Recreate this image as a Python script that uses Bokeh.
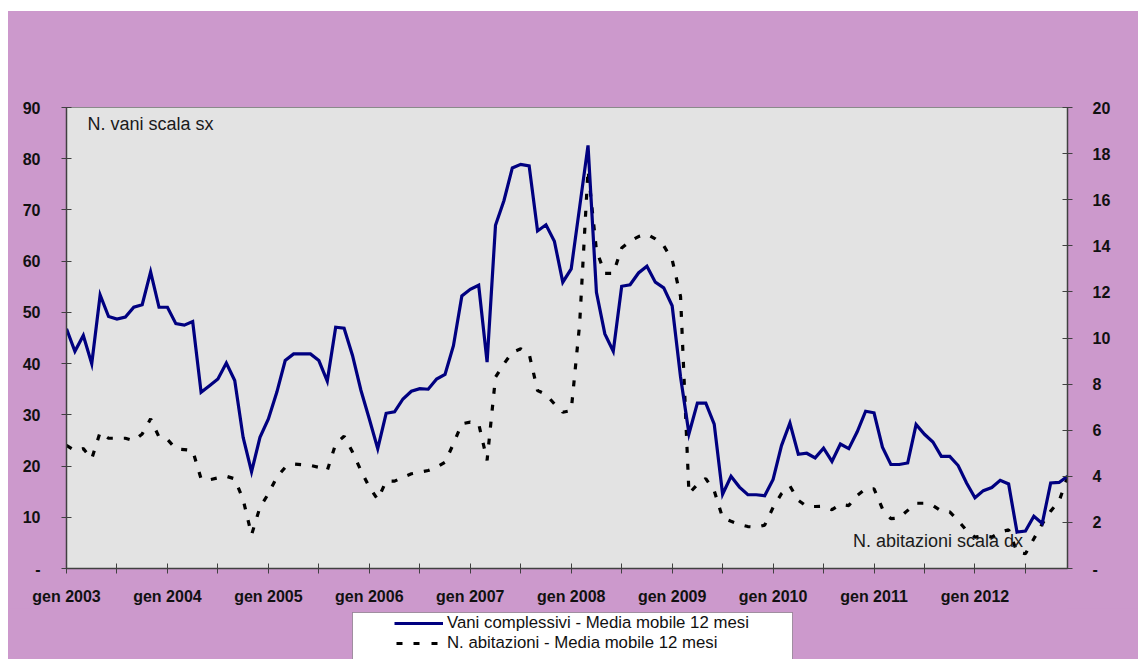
from bokeh.plotting import figure
from bokeh.models import (Range1d, LinearAxis, FixedTicker, Legend, LegendItem,
                          Label, Spacer, BoxAnnotation)
from bokeh.layouts import column, row
from bokeh.embed import file_html
from bokeh.resources import INLINE

# ---------------- data ----------------
year_labels = ["gen 2003", "gen 2004", "gen 2005", "gen 2006", "gen 2007",
               "gen 2008", "gen 2009", "gen 2010", "gen 2011", "gen 2012"]

vani = [46.8, 42.4, 45.5, 40.0, 53.4, 49.2, 48.7, 49.1, 51.0, 51.5, 57.9, 51.0,
        51.0, 47.8, 47.5, 48.2, 34.4, 35.7, 37.0, 40.1, 36.7, 25.6, 18.9, 25.6,
        29.2, 34.4, 40.6, 41.9, 41.9, 41.9, 40.6, 36.6, 47.1, 46.9, 41.6, 34.8,
        29.2, 23.4, 30.3, 30.6, 33.1, 34.6, 35.1, 35.0, 37.0, 37.9, 43.5, 53.2,
        54.5, 55.3, 40.3, 67.0, 71.8, 78.2, 78.9, 78.6, 65.9, 67.1, 63.9, 55.9,
        58.5, 70.5, 82.6, 53.9, 45.8, 42.4, 55.1, 55.4, 57.7, 59.0, 55.9, 54.8,
        51.3, 37.4, 26.3, 32.3, 32.3, 28.2, 14.5, 18.0, 15.9, 14.4, 14.4, 14.2,
        17.4, 24.0, 28.4, 22.3, 22.5, 21.6, 23.5, 20.9, 24.3, 23.4, 26.7, 30.7,
        30.4, 23.7, 20.3, 20.3, 20.6, 28.1, 26.2, 24.7, 21.9, 21.9, 20.1, 16.7,
        13.8, 15.2, 15.8, 17.2, 16.5, 7.1, 7.3, 10.2, 8.8, 16.7, 16.8, 18.0]

abitazioni = [5.34, 5.12, 5.20, 4.76, 5.91, 5.65, 5.65, 5.65, 5.55, 5.84, 6.49, 5.70,
              5.60, 5.19, 5.16, 5.12, 3.89, 3.85, 3.93, 4.00, 3.89, 2.99, 1.46, 2.66,
              3.24, 3.96, 4.39, 4.53, 4.50, 4.47, 4.39, 4.25, 5.41, 5.74, 5.05, 4.25,
              3.53, 2.99, 3.79, 3.79, 3.96, 4.11, 4.18, 4.25, 4.39, 4.61, 5.41, 6.28,
              6.35, 6.28, 4.69, 8.30, 8.88, 9.38, 9.53, 9.31, 7.72, 7.55, 7.14, 6.78,
              6.85, 10.6, 17.3, 13.8, 12.8, 12.8, 13.9, 14.2, 14.4, 14.5, 14.3, 14.0,
              13.4, 11.8, 3.25, 3.65, 3.90, 3.38, 2.20, 2.05, 1.91, 1.82, 1.79, 1.88,
              2.65, 3.25, 3.58, 2.96, 2.69, 2.69, 2.70, 2.55, 2.78, 2.73, 3.17, 3.46,
              3.46, 2.59, 2.16, 2.20, 2.52, 2.83, 2.83, 2.73, 2.49, 2.46, 2.08, 1.65,
              1.36, 1.43, 1.36, 1.58, 1.68, 0.71, 0.64, 1.29, 1.94, 2.49, 2.92, 3.96]

months = list(range(len(vani)))

left_ticks = [0, 10, 20, 30, 40, 50, 60, 70, 80, 90]
right_ticks = [0, 2, 4, 6, 8, 10, 12, 14, 16, 18, 20]

legend_labels = ["Vani complessivi - Media mobile 12 mesi",
                 "N. abitazioni - Media mobile 12 mesi"]

# ---------------- styles ----------------
PURPLE = "#CC99CC"
PLOT_BG = "#E3E3E3"
NAVY = "#000080"
FONT = "Liberation Sans"
AXIS_COL = "#404040"

p = figure(width=1130, height=597, output_backend="svg", toolbar_location=None,
           x_range=Range1d(0, len(vani) - 1), y_range=Range1d(0, 90),
           min_border_left=58, min_border_right=71, min_border_top=96,
           min_border_bottom=40)
p.extra_y_ranges = {"right": Range1d(0, 20)}
p.background_fill_color = PLOT_BG
p.border_fill_color = PURPLE
p.outline_line_color = "#8a8a8a"
p.outline_line_width = 1
p.xgrid.visible = False
p.ygrid.visible = False

def style_axis(ax):
    ax.axis_line_color = AXIS_COL
    ax.axis_line_width = 1.5
    ax.major_tick_line_color = AXIS_COL
    ax.major_tick_in = 5
    ax.major_tick_out = 5
    ax.minor_tick_line_color = None
    ax.major_label_text_font = FONT
    ax.major_label_text_font_style = "bold"
    ax.major_label_text_font_size = "16px"
    ax.major_label_text_color = "#111111"

# x axis
xa = p.xaxis[0]
style_axis(xa)
xticks = list(range(0, len(vani), 6))
xa.ticker = FixedTicker(ticks=xticks)
overrides = {}
for t in xticks:
    overrides[t] = year_labels[t // 12] if t % 12 == 0 else ""
xa.major_label_overrides = overrides
xa.major_label_standoff = 14

# left axis
ya = p.yaxis[0]
style_axis(ya)
ya.ticker = FixedTicker(ticks=left_ticks)
ya.major_label_overrides = {0: "-"}
ya.major_label_standoff = 21

# right axis
ra = LinearAxis(y_range_name="right")
style_axis(ra)
ra.ticker = FixedTicker(ticks=right_ticks)
ra.major_label_overrides = {0: "-"}
ra.major_label_standoff = 20
p.add_layout(ra, "right")

# lines
p.line(months, abitazioni, y_range_name="right", line_color="black",
       line_width=3.2, line_dash="6 11")
p.line(months, vani, line_color=NAVY, line_width=3.2, line_join="miter")

# text annotations
p.add_layout(Label(x=2.5, y=86.8, text="N. vani scala sx", text_font=FONT,
                   text_font_size="18px", text_color="#1a1a1a",
                   text_baseline="alphabetic"))
p.add_layout(Label(x=93.5, y=1.18, y_range_name="right",
                   text="N. abitazioni scala dx", text_font=FONT,
                   text_font_size="18px", text_color="#1a1a1a",
                   text_baseline="alphabetic"))

# ---------------- legend strip below the chart ----------------
# (its frame is aligned with the chart frame by the column layout)
p2 = figure(width=1130, height=51, output_backend="svg", toolbar_location=None,
            x_axis_location=None, y_axis_location=None,
            x_range=Range1d(0, 1), y_range=Range1d(0, 1),
            min_border_left=58, min_border_right=71, min_border_top=0,
            min_border_bottom=0)
p2.background_fill_color = PURPLE
p2.border_fill_color = PURPLE
p2.outline_line_color = None
p2.xgrid.visible = False
p2.ygrid.visible = False

nan = float("nan")
leg_va = p2.line([nan], [nan], line_color=NAVY, line_width=3,
                 line_dash="0 42 49 1000")
leg_ab = p2.line([nan], [nan], line_color="black", line_width=3,
                 line_dash="0 44 6 11 6 12 6 1000")

p2.add_layout(BoxAnnotation(left=286, right=726, top=47, bottom=-20,
                            left_units="screen", right_units="screen",
                            top_units="screen", bottom_units="screen",
                            fill_color="white", fill_alpha=1.0,
                            line_color="black", line_width=1))

legend = Legend(items=[LegendItem(label=legend_labels[0], renderers=[leg_va]),
                       LegendItem(label=legend_labels[1], renderers=[leg_ab])],
                location=(286, 6), orientation="vertical",
                background_fill_alpha=0, border_line_color=None,
                padding=4, spacing=0, margin=0,
                glyph_width=91, glyph_height=18, label_height=18,
                label_standoff=4,
                label_text_font=FONT, label_text_font_size="16.8px",
                label_text_color="#111111")
p2.add_layout(legend)

inner = column(p, p2, styles={"background-color": PURPLE})
layout = column(Spacer(width=1138, height=11),
                row(Spacer(width=8, height=648), inner))
open("out.html", "w").write(file_html(layout, INLINE))
